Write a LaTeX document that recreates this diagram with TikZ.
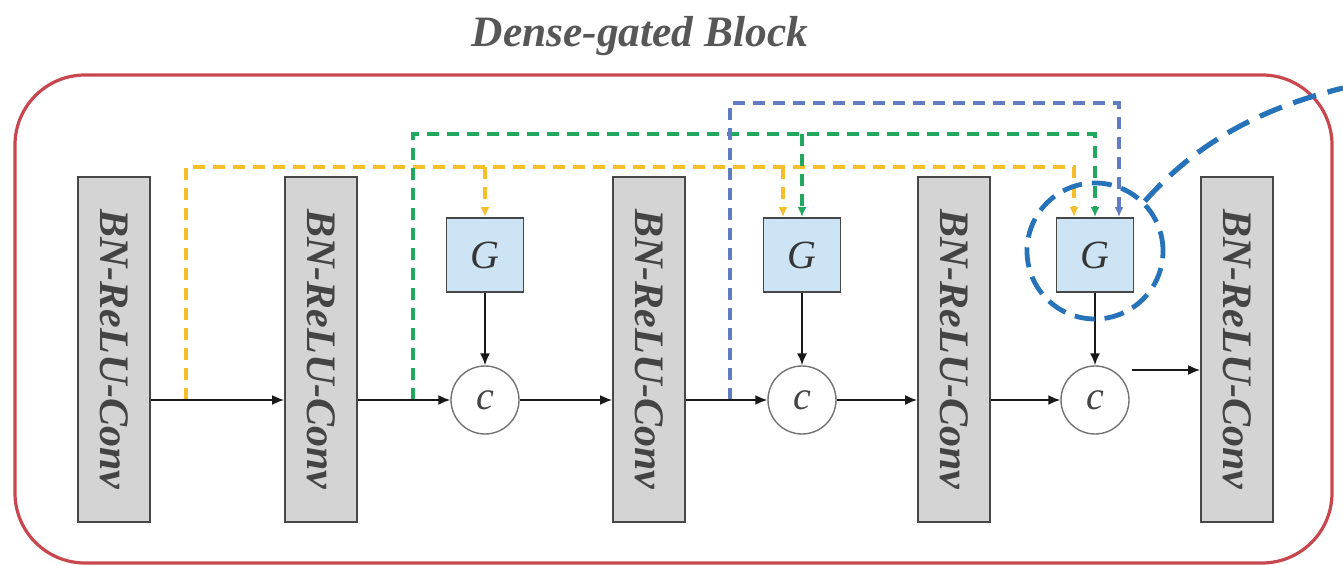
\documentclass[tikz,border=0pt]{standalone}
\usepackage{fontspec}
\setmainfont{Liberation Serif}
\usetikzlibrary{calc,arrows.meta}
\definecolor{frame}{HTML}{C8474F}
\definecolor{convgray}{HTML}{D4D4D4}
\definecolor{gblue}{HTML}{CDE4F5}
\definecolor{dyellow}{HTML}{F4BF2A}
\definecolor{dgreen}{HTML}{22A85E}
\definecolor{dslate}{HTML}{5F7BC2}
\definecolor{hblue}{HTML}{2673BA}
\definecolor{txt}{HTML}{444444}
\begin{document}
\begin{tikzpicture}[x=0.5pt,y=-0.5pt,>={Latex[length=6pt,width=5pt]},
  conv/.style={draw=black!72,line width=0.9pt,fill=convgray,minimum width=36pt,
    minimum height=172.5pt,inner sep=0pt,text=txt,
    font=\fontsize{21}{21}\selectfont\bfseries\itshape},
  gate/.style={draw=black!72,line width=0.9pt,fill=gblue,minimum width=38.5pt,
    minimum height=37pt,inner sep=0pt,text=txt!80!black,font=\fontsize{20}{20}\selectfont\itshape},
  cat/.style={circle,draw=black!55,line width=0.7pt,fill=white,minimum size=34pt,
    inner sep=0pt,text=txt,font=\fontsize{20}{20}\selectfont\itshape},
  flow/.style={->,line width=0.9pt,black!90},
  skip/.style={-{Latex[length=5pt,width=4.5pt]},line width=1.7pt,dash pattern=on 6pt off 4pt}]
  \useasboundingbox (0,0) rectangle (1343,565);
  \node[anchor=base,text=txt!90,font=\fontsize{21.7}{22}\selectfont\bfseries\itshape]
    (ttl) at (640,47) {Dense-gated Block};
  \draw[frame,line width=1.6pt,rounded corners=35pt] (15,75) rectangle (1332,563);
  \foreach \n/\x in {1/114,2/321,3/649,4/954,5/1237}
    \node[conv] (cv\n) at (\x,349.5) {\rotatebox{-90}{BN-ReLU-Conv}};
  \foreach \n/\x in {1/485,2/802,3/1095} {
    \node[gate] (g\n) at (\x,255) {G};
    \node[cat] (c\n) at (\x,400) {c};
  }
  \coordinate (ytap) at (186,400);
  \coordinate (gtap) at (413,400);
  \coordinate (btap) at (730,400);
  \coordinate (ylev) at (0,167);
  \coordinate (glev) at (0,134);
  \coordinate (blev) at (0,103);
  \coordinate (g2y) at ($(g2.north)+(-19,0)$);
  \coordinate (g3y) at ($(g3.north)+(-21,0)$);
  \coordinate (g3b) at ($(g3.north)+(24,0)$);
  \draw[skip,dyellow] (ytap) |- (ylev -| g3y) -- (g3y);
  \draw[skip,dyellow] (ylev -| g1.north) -- (g1.north);
  \draw[skip,dyellow] (ylev -| g2y) -- (g2y);
  \draw[skip,dgreen] (gtap) |- (glev -| g3.north) -- (g3.north);
  \draw[skip,dgreen] (glev -| g2.north) -- (g2.north);
  \draw[skip,dslate] (btap) |- (blev -| g3b) -- (g3b);
  \draw[flow] (cv1.east |- c1) -- (cv2.west |- c1);
  \draw[flow] (cv2.east |- c1) -- (c1);
  \draw[flow] (c1) -- (cv3.west |- c1);
  \draw[flow] (cv3.east |- c2) -- (c2);
  \draw[flow] (c2) -- (cv4.west |- c2);
  \draw[flow] (cv4.east |- c3) -- (c3);
  \coordinate (c3out) at (1132,370);
  \draw[flow] (c3out) -- (cv5.west |- c3out);
  \foreach \n in {1,2,3} \draw[flow] (g\n) -- (c\n);
  \node[circle,draw=hblue,line width=2.4pt,dash pattern=on 10pt off 5pt,
    minimum size=68pt] (hl) at (1095,251) {};
  \draw[hblue,line width=2.6pt,dash pattern=on 12pt off 6pt]
    (hl.45) .. controls (1195,145) and (1255,110) .. (1343,88);
\end{tikzpicture}
\end{document}
